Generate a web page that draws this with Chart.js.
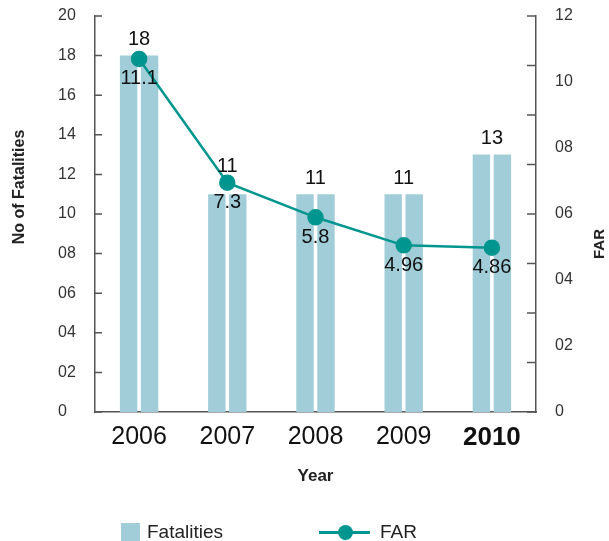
<!DOCTYPE html>
<html>
<head>
<meta charset="utf-8">
<script src="https://cdn.jsdelivr.net/npm/chart.js@4"></script>
<style>
  body { margin: 0; background: #fff; }
  #wrap { position: relative; width: 609px; height: 541px; overflow: hidden; font-family: "Liberation Sans", Arial, sans-serif; }
  .lg { position: absolute; color: #222; font-size: 19px; line-height: 20px; }
  .box { position: absolute; left: 121px; top: 523px; width: 19px; height: 19px; background: #a0cdd8; }
  .ln { position: absolute; left: 319px; top: 531px; width: 51px; height: 3px; background: #00968f; }
  .dot { position: absolute; left: 338px; top: 525px; width: 15px; height: 15px; border-radius: 50%; background: #00968f; }
</style>
</head>
<body>
<div id="wrap">
  <canvas id="chart" width="609" height="541"></canvas>
  <div class="box"></div>
  <div class="lg" style="left:147px; top:522px;">Fatalities</div>
  <div class="ln"></div>
  <div class="dot"></div>
  <div class="lg" style="left:380px; top:522px;">FAR</div>
</div>
<script>
const years = ['2006', '2007', '2008', '2009', '2010'];
const fatalities = [18, 11, 11, 11, 13];
// where the FAR dots sit on the right axis, and the numbers printed beside them
const farValues = [10.7, 6.95, 5.9, 5.05, 4.98];
const farLabels = ['11.1', '7.3', '5.8', '4.96', '4.86'];
const farTickCount = 8;

const barColor = '#a0cdd8';
const lineColor = '#00968f';
const axisColor = '#555';
const font = '"Liberation Sans", Arial, sans-serif';

function pad2(v) {
  return v === 0 ? '0' : String(v).padStart(2, '0');
}

// inward tick marks, value labels and the two rotated axis titles
const decorations = {
  id: 'decorations',
  afterDatasetsDraw(chart) {
    const { ctx, chartArea, scales } = chart;
    const { x, y, y1 } = scales;
    ctx.save();

    ctx.strokeStyle = axisColor;
    ctx.lineWidth = 1.5;
    ctx.beginPath();
    y.ticks.forEach(t => {
      const py = y.getPixelForValue(t.value);
      ctx.moveTo(chartArea.left, py);
      ctx.lineTo(chartArea.left + 7, py);
    });
    for (let i = 0; i <= farTickCount; i++) {
      const py = y1.getPixelForValue(i * y1.max / farTickCount);
      ctx.moveTo(chartArea.right, py);
      ctx.lineTo(chartArea.right - 9, py);
    }
    ctx.stroke();

    const bars = chart.getDatasetMeta(0).data;
    const pts = chart.getDatasetMeta(2).data;
    ctx.fillStyle = '#111';
    ctx.font = '20px ' + font;
    ctx.textAlign = 'center';
    ctx.textBaseline = 'middle';
    fatalities.forEach((v, i) => {
      const cx = x.getPixelForValue(i);
      const top = Math.min(bars[i].y, pts[i].y);
      ctx.fillText(String(v), cx, top - 16);
      ctx.fillText(farLabels[i], pts[i].x, pts[i].y + 20);
    });

    const mid = (chartArea.top + chartArea.bottom) / 2;
    ctx.fillStyle = '#222';
    ctx.font = 'bold 16px ' + font;
    ctx.translate(20, mid - 27);
    ctx.rotate(-Math.PI / 2);
    ctx.fillText('No of Fatalities', 0, 0);
    ctx.setTransform(1, 0, 0, 1, 0, 0);
    ctx.font = 'bold 15px ' + font;
    ctx.translate(600, mid + 30);
    ctx.rotate(-Math.PI / 2);
    ctx.fillText('FAR', 0, 0);
    ctx.restore();
  }
};

new Chart(document.getElementById('chart'), {
  type: 'bar',
  data: {
    labels: years,
    datasets: [
      { label: 'Fatalities', data: fatalities, backgroundColor: barColor, yAxisID: 'y', order: 1,
        barPercentage: 0.83, categoryPercentage: 0.476 },
      { label: 'Fatalities', data: fatalities, backgroundColor: barColor, yAxisID: 'y', order: 1,
        barPercentage: 0.83, categoryPercentage: 0.476 },
      { type: 'line', label: 'FAR', data: farValues, yAxisID: 'y1', order: 0,
        borderColor: lineColor, borderWidth: 2.5, pointBackgroundColor: lineColor,
        pointBorderColor: lineColor, pointRadius: 7, tension: 0 }
    ]
  },
  options: {
    responsive: false,
    animation: false,
    layout: { padding: { left: 58, top: 16, right: 0, bottom: 0 } },
    plugins: { legend: { display: false }, tooltip: { enabled: false } },
    scales: {
      x: {
        grid: { display: false, drawTicks: false },
        border: { display: true, color: axisColor, width: 1.5 },
        ticks: {
          padding: 10,
          color: '#111',
          font: c => (c.index === 4 ? { family: font, size: 26, weight: 'bold' } : { family: font, size: 25 })
        },
        title: { display: true, text: 'Year', color: '#222', font: { family: font, size: 17, weight: 'bold' },
          padding: { top: 0, bottom: 54 } },
        afterFit: s => { s.height = 129; }
      },
      y: {
        position: 'left',
        min: 0, max: 20,
        grid: { display: false, drawTicks: false },
        border: { display: true, color: axisColor, width: 1.5 },
        ticks: { stepSize: 2, crossAlign: 'far', color: '#333', font: { family: font, size: 16 }, callback: pad2 },
        afterFit: s => { s.width = 37; s.paddingTop = 0; s.paddingBottom = 0; }
      },
      y1: {
        position: 'right',
        min: 0, max: 12,
        grid: { display: false, drawTicks: false },
        border: { display: true, color: axisColor, width: 1.5 },
        ticks: { stepSize: 2, padding: 19, color: '#333', font: { family: font, size: 16 }, callback: pad2 },
        afterFit: s => { s.width = 73; s.paddingTop = 0; s.paddingBottom = 0; }
      }
    }
  },
  plugins: [decorations]
});
</script>
</body>
</html>
